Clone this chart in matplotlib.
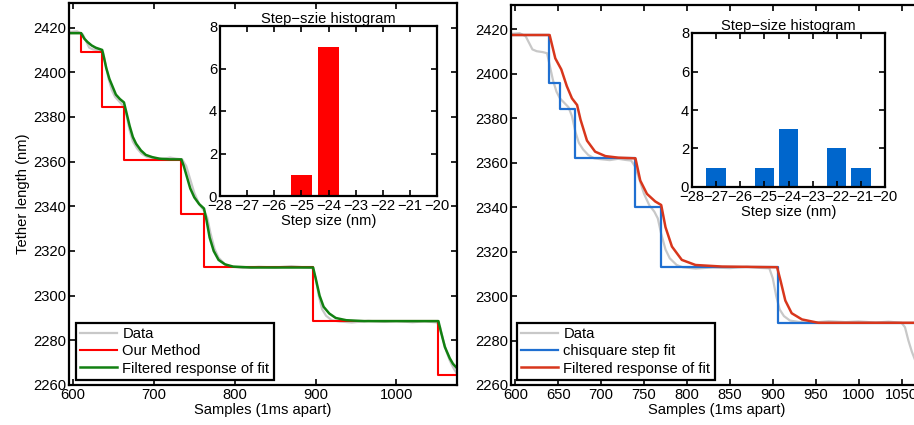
import matplotlib
matplotlib.use("Agg")
import matplotlib.pyplot as plt

plt.rcParams['font.family'] = ['Liberation Sans', 'DejaVu Sans']
plt.rcParams['font.size'] = 10.6

# raw tether length trace (same data on both panels)
data_x = [595, 605, 612, 616, 620, 625, 632, 637, 640, 644, 648, 652, 657, 662, 666,
          670, 674, 679, 685, 692, 700, 710, 720, 728, 735, 740, 745, 750, 756, 762,
          766, 770, 775, 780, 788, 795, 810, 830, 850, 870, 885, 896, 900, 904, 908,
          913, 920, 930, 945, 965, 985, 1000, 1020, 1035, 1050, 1054, 1058, 1062, 1066,
          1070, 1075]
data_y = [2418, 2418.3, 2417, 2414, 2411, 2410.2, 2409.8, 2409.3, 2404, 2397, 2392, 2389,
          2387, 2385, 2381, 2374, 2369, 2366, 2363.5, 2362, 2361.6, 2361.2, 2361.8, 2361.3,
          2361, 2358, 2352, 2346, 2341, 2338, 2335, 2328, 2321, 2317, 2314, 2313, 2312.4,
          2312.9, 2312.6, 2313.2, 2312.7, 2312.5, 2308, 2300, 2294, 2291, 2289, 2288.4,
          2288, 2288.7, 2288.3, 2288.6, 2288.1, 2288.5, 2288, 2286, 2280, 2275, 2271,
          2268, 2265]

# left panel: our method step fit
ours_x = [595, 609.5, 609.5, 636, 636, 663, 663, 734, 734, 762, 762, 897, 897, 1052, 1052, 1075]
ours_y = [2417.5, 2417.5, 2409, 2409, 2384.6, 2384.6, 2360.7, 2360.7, 2336.6, 2336.6,
          2312.7, 2312.7, 2288.8, 2288.8, 2264.5, 2264.5]

# left panel: filtered response of fit
filt_l_x = [595, 610, 614, 618, 623, 628, 636, 638, 641, 645, 649, 653, 658, 663, 666,
            670, 674, 678, 684, 690, 698, 707, 720, 734, 737, 741, 745, 750, 756, 762,
            765, 769, 774, 780, 788, 798, 820, 897, 900, 905, 910, 917, 925, 938, 960,
            1052, 1055, 1060, 1066, 1070, 1075]
filt_l_y = [2417.5, 2417.5, 2415, 2413.5, 2412, 2411, 2410, 2407, 2402, 2397, 2393.5,
            2390, 2388, 2386.5, 2382, 2376, 2371, 2368, 2365, 2363, 2362, 2361.3, 2361,
            2361, 2358, 2353, 2348, 2344, 2341, 2339, 2334, 2326, 2320, 2316, 2314, 2313,
            2312.6, 2312.6, 2308, 2300, 2295, 2292, 2290, 2289, 2288.6, 2288.6, 2284,
            2277, 2272, 2269.5, 2267.5]

# right panel: chisquare step fit
chi_x = [595, 639, 639, 652, 652, 670, 670, 740, 740, 770, 770, 905.5, 905.5, 1075]
chi_y = [2417.3, 2417.3, 2396, 2396, 2384, 2384, 2362, 2362, 2340, 2340, 2313, 2313,
         2287.8, 2287.8]

# right panel: filtered response of fit
filt_r_x = [595, 640, 646.6, 653.6, 660, 666, 672, 676, 683.5, 693, 705, 720, 740,
            745.6, 753.4, 763, 770, 775, 782.5, 794, 810, 841, 905, 909, 914.6, 922,
            934, 953, 1075]
filt_r_y = [2417.5, 2417.5, 2407, 2402, 2394.5, 2389, 2386, 2379.4, 2370, 2365, 2363,
            2362.3, 2362, 2352, 2346, 2342.6, 2341, 2331, 2322.3, 2316.3, 2314, 2313.3,
            2313, 2307, 2298, 2292.3, 2289.5, 2288, 2288]

# step-size histograms
bins = [-28, -27, -26, -25, -24, -23, -22, -21, -20]
counts_ours = [0, 0, 0, 1, 7, 0, 0, 0, 0]
counts_chi = [0, 1, 0, 1, 3, 0, 2, 1, 0]

yticks_main = [2260, 2280, 2300, 2320, 2340, 2360, 2380, 2400, 2420]


def style_axes(ax):
    for s in ax.spines.values():
        s.set_linewidth(1.6)
    ax.tick_params(direction='in', top=True, right=True, length=4, width=1.2, pad=2)


def make_legend(ax, x0, y0):
    leg = ax.legend(loc='lower left', bbox_to_anchor=(x0 / W, 1 - y0 / H),
                    bbox_transform=fig.transFigure, borderaxespad=0, fancybox=False,
                    framealpha=1, edgecolor='black', handlelength=2.5, handletextpad=0.35,
                    labelspacing=0.22, borderpad=0.3)
    leg.get_frame().set_linewidth(1.6)


W, H = 914, 425
fig = plt.figure(figsize=(W / 100, H / 100), dpi=100)

def box(l, t, r, b):
    return [l / W, 1 - b / H, (r - l) / W, (b - t) / H]

# ---- left panel ----
ax1 = fig.add_axes(box(69, 3, 457, 385))
ax1.plot(data_x, data_y, color='#c8c8c8', lw=1.6, label='Data')
ax1.plot(ours_x, ours_y, color='#ff0000', lw=1.5, label='Our Method')
ax1.plot(filt_l_x, filt_l_y, color='#118011', lw=1.8, label='Filtered response of fit')
ax1.set_xlim(595, 1075)
ax1.set_ylim(2260, 2431)
ax1.set_xticks([600, 700, 800, 900, 1000])
ax1.set_yticks(yticks_main)
ax1.set_xlabel('Samples (1ms apart)', labelpad=1)
ax1.set_ylabel('Tether length (nm)', labelpad=2)
style_axes(ax1)
make_legend(ax1, 76, 380)

ins1 = fig.add_axes(box(220, 26, 437, 196))
ins1.bar(bins, counts_ours, width=0.8, color='#ff0000')
ins1.set_xlim(-28, -20)
ins1.set_ylim(0, 8)
ins1.set_xticks(bins)
ins1.set_yticks([0, 2, 4, 6, 8])
ins1.set_title('Step\u2212szie histogram', pad=2, fontsize=10.6)
ins1.set_xlabel('Step size (nm)', labelpad=1)
style_axes(ins1)

# ---- right panel ----
ax2 = fig.add_axes(box(511, 5, 923, 385))
ax2.plot(data_x, data_y, color='#c8c8c8', lw=1.6, label='Data')
ax2.plot(chi_x, chi_y, color='#1f6fd1', lw=1.6, label='chisquare step fit')
ax2.plot(filt_r_x, filt_r_y, color='#d8361c', lw=1.8, label='Filtered response of fit')
ax2.set_xlim(595, 1075)
ax2.set_ylim(2260, 2431)
ax2.set_xticks(list(range(600, 1051, 50)))
ax2.set_yticks(yticks_main)
ax2.set_xlabel('Samples (1ms apart)', labelpad=1)
style_axes(ax2)
make_legend(ax2, 517, 380)

ins2 = fig.add_axes(box(692, 33, 885, 187))
ins2.bar(bins, counts_chi, width=0.8, color='#0066cc')
ins2.set_xlim(-28, -20)
ins2.set_ylim(0, 8)
ins2.set_xticks(bins)
ins2.set_yticks([0, 2, 4, 6, 8])
ins2.set_title('Step\u2212size histogram', pad=2, fontsize=10.6)
ins2.set_xlabel('Step size (nm)', labelpad=1)
style_axes(ins2)

fig.savefig('out.png', dpi=100)
